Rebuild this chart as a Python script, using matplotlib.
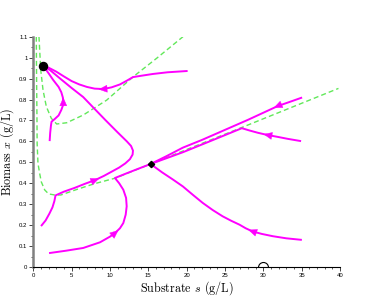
import numpy as np
import matplotlib
matplotlib.use("Agg")
import matplotlib.pyplot as plt
from matplotlib.patches import Polygon

plt.rcParams['mathtext.fontset'] = 'cm'
plt.rcParams['axes.unicode_minus'] = False

# ---------------- data ----------------
# trajectories (substrate s, biomass x), ordered along the flow
t1_s = [20.0, 17.5, 15.6, 14.0, 13.0, 12.2, 11.3, 10.2, 9.1, 8.0, 7.0, 6.0, 5.0, 4.0, 3.0, 2.0, 1.26]
t1_x = [0.936, 0.930, 0.922, 0.913, 0.907, 0.890, 0.872, 0.858, 0.850, 0.852, 0.860, 0.872, 0.888, 0.910, 0.933, 0.952, 0.961]
t1_arrow = 8

t2_s = [1.09, 1.6, 2.1, 2.5, 2.75, 2.9, 4.0, 5.4, 6.7, 8.05, 9.2, 10.2, 11.2, 12.0, 12.6, 12.95, 13.0,
        12.75, 12.2, 11.0, 9.4, 8.0, 6.5, 5.0, 3.5, 2.2, 1.26]
t2_x = [0.199, 0.222, 0.255, 0.285, 0.315, 0.342, 0.360, 0.378, 0.397, 0.415, 0.435, 0.455, 0.475, 0.495,
        0.515, 0.537, 0.556, 0.578, 0.600, 0.643, 0.702, 0.755, 0.812, 0.855, 0.900, 0.940, 0.961]
t2_arrow = 9

t3_s = [2.14, 2.2, 2.3, 2.38, 2.8, 3.3, 3.65, 3.85, 3.91, 3.85, 3.65, 3.3, 2.6, 2.0, 1.5, 1.26]
t3_x = [0.606, 0.640, 0.675, 0.694, 0.707, 0.724, 0.750, 0.770, 0.789, 0.810, 0.835, 0.860, 0.893, 0.925, 0.950, 0.961]
t3_arrow = 8

t4_s = [2.18, 4.3, 6.52, 8.7, 10.0, 10.65, 11.3, 11.74, 12.05, 12.18, 12.1, 11.74, 11.2, 10.65, 12.0, 13.6, 15.3]
t4_x = [0.067, 0.078, 0.091, 0.118, 0.145, 0.162, 0.185, 0.210, 0.250, 0.290, 0.330, 0.369, 0.400, 0.425,
        0.445, 0.468, 0.492]
t4_arrow = 5

t5_s = [34.94, 33.4, 31.9, 28.0, 25.0, 22.0, 19.5, 17.4, 15.3]
t5_x = [0.808, 0.788, 0.769, 0.703, 0.655, 0.607, 0.570, 0.530, 0.492]
t5_arrow = 2

t6_s = [34.8, 33.2, 31.8, 30.6, 29.3, 28.2, 27.2, 23.0, 19.5, 15.3]
t6_x = [0.602, 0.612, 0.622, 0.630, 0.641, 0.652, 0.663, 0.600, 0.548, 0.492]
t6_arrow = 3

t7_s = [34.9, 33.0, 31.25, 29.8, 28.6, 27.7, 26.9, 25.8, 24.7, 23.4, 22.1, 20.8, 19.5, 18.2, 16.8, 15.3]
t7_x = [0.130, 0.137, 0.147, 0.158, 0.170, 0.185, 0.202, 0.221, 0.242, 0.272, 0.306, 0.345, 0.385, 0.418,
        0.452, 0.492]
t7_arrow = 4

# dashed green curves
ga_s = [0.74, 0.97, 1.27, 1.70, 2.35, 3.05, 4.36, 6.52, 9.57, 13.04, 16.09, 19.52]
ga_x = [1.100, 0.941, 0.845, 0.766, 0.710, 0.683, 0.689, 0.726, 0.797, 0.909, 0.997, 1.100]

gb_s = [0.39, 0.43, 0.48, 0.50, 0.61, 0.83, 1.04, 1.49, 2.0, 2.8, 3.6, 5.8, 8.0, 10.65, 15.3, 27.3, 39.8]
gb_x = [1.100, 0.893, 0.702, 0.591, 0.495, 0.447, 0.407, 0.368, 0.349, 0.344, 0.344, 0.372, 0.398, 0.424,
        0.492, 0.668, 0.853]

# equilibria
eq_stable_s = [1.26]
eq_stable_x = [0.961]
eq_mid_s = [15.3]
eq_mid_x = [0.492]
eq_wash_s = [30.0]
eq_wash_x = [0.0]

trajectories = [(t1_s, t1_x, t1_arrow), (t2_s, t2_x, t2_arrow), (t3_s, t3_x, t3_arrow),
                (t4_s, t4_x, t4_arrow), (t5_s, t5_x, t5_arrow), (t6_s, t6_x, t6_arrow),
                (t7_s, t7_x, t7_arrow)]

# ---------------- figure ----------------
W, H = 366, 306
fig = plt.figure(figsize=(W / 100, H / 100), dpi=100)
ax = fig.add_axes([33.3 / W, 1 - 267 / H, (340 - 33.3) / W, (267 - 36.7) / H])
ax.set_xlim(0, 40)
ax.set_ylim(0, 1.1)

MAG = '#ff00ff'
GRN = '#62e85a'

ax.plot(ga_s, ga_x, color=GRN, lw=1.0, dashes=(3.6, 2.2), zorder=2)
ax.plot(gb_s, gb_x, color=GRN, lw=1.0, dashes=(3.6, 2.2), zorder=2)

for s, x, _ in trajectories:
    ax.plot(s, x, color=MAG, lw=1.4, zorder=3, solid_joinstyle='round')

fig.canvas.draw()
to_disp = ax.transData
to_data = ax.transData.inverted()


def arrow_head(s, x, i, L=8.0, Wd=7.0):
    pts = to_disp.transform(np.column_stack([s, x]))
    p = pts[i]
    d = pts[min(i + 1, len(pts) - 1)] - pts[max(i - 1, 0)]
    u = d / np.hypot(*d)
    n = np.array([-u[1], u[0]])
    tip = p + u * L * 0.5
    b1 = p - u * L * 0.5 + n * Wd * 0.5
    b2 = p - u * L * 0.5 - n * Wd * 0.5
    tri = to_data.transform(np.array([tip, b1, b2]))
    ax.add_patch(Polygon(tri, closed=True, facecolor=MAG, edgecolor=MAG, lw=0.3, zorder=4))


for s, x, ai in trajectories:
    arrow_head(s, x, ai)

ax.plot(eq_stable_s, eq_stable_x, 'o', color='black', ms=5.8, zorder=5)
ax.plot(eq_mid_s, eq_mid_x, 'D', color='black', ms=3.2, zorder=5)
ax.plot(eq_wash_s, eq_wash_x, 'o', mfc='none', mec='black', mew=0.8, ms=7.2, zorder=5)

# axes styling
for side in ['top', 'right']:
    ax.spines[side].set_visible(False)
ax.spines['left'].set_color('#808080')
ax.spines['left'].set_linewidth(1.8)
ax.spines['bottom'].set_color('black')
ax.spines['bottom'].set_linewidth(0.8)

ax.set_xticks(np.arange(0, 41, 5))
ax.set_xticks(np.arange(0, 41, 1), minor=True)
ax.set_yticks(np.round(np.arange(0, 1.11, 0.1), 2))
ax.set_yticks(np.round(np.arange(0, 1.11, 0.05), 3), minor=True)
ax.set_xticklabels([f'{v:g}' for v in np.arange(0, 41, 5)])
ax.set_yticklabels([f'{v:g}' for v in np.round(np.arange(0, 1.11, 0.1), 2)])
ax.tick_params(axis='both', which='major', direction='out', length=3, width=0.7, pad=1.2,
               labelsize=4.3, color='#444444')
ax.tick_params(axis='both', which='minor', direction='out', length=1.6, width=0.6, color='#444444')
for lab in ax.get_xticklabels() + ax.get_yticklabels():
    lab.set_fontfamily('Liberation Sans')

ax.set_xlabel('Substrate $s$ (g/L)', fontfamily='cmr10', fontsize=8.7, labelpad=1)
ax.set_ylabel('Biomass $x$ (g/L)', fontfamily='cmr10', fontsize=8.7, labelpad=2)

fig.savefig('out.png', dpi=100)
